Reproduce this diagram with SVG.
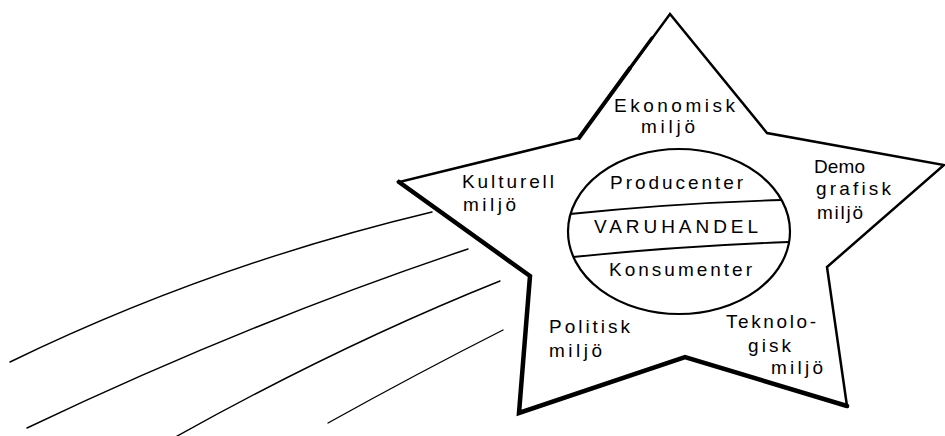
<svg xmlns="http://www.w3.org/2000/svg" width="945" height="436" viewBox="0 0 945 436">
<style>
.lbl{font-family:"Liberation Sans",Arial,sans-serif;font-size:19px;fill:#000}
.trail{fill:none;stroke:#000;stroke-width:1.4;stroke-linecap:round}
.edge{fill:none;stroke:#000;stroke-linejoin:miter;stroke-linecap:round}
</style>
<rect width="945" height="436" fill="#fff"/>
<g id="connectors" class="trail">
<path d="M10,362 Q210,265 432,212"/>
<path d="M27,428 Q250,322 468,249"/>
<path d="M163,444 Q335,347 500,281"/>
<path d="M328,423 Q418,373 503,330"/>
</g>
<g id="star">
<polygon points="670,14 767,133 944,165 827,267 847,406 685,357 519,413 530,276 399,182 579,138" fill="#fff" stroke="#000" stroke-width="2.5" stroke-linejoin="miter"/>
<path class="edge" d="M399,182 L530,276 L519,413 L685,357 L847,406" stroke-width="4.5"/>
<path class="edge" d="M579,138 L630,68" stroke-width="4"/>
<path class="edge" d="M630,68 L652,38" stroke-width="3.2"/>
</g>
<g id="varuhandel">
<ellipse cx="679" cy="231.5" rx="111" ry="82.5" fill="#fff" stroke="#000" stroke-width="2.2"/>
<path d="M570,214 Q675,203 782,200" fill="none" stroke="#000" stroke-width="1.8"/>
<path d="M573,257 Q680,246 789,242" fill="none" stroke="#000" stroke-width="1.8"/>
<text class="lbl" x="610" y="189" textLength="133" lengthAdjust="spacing">Producenter</text>
<text class="lbl" x="594" y="233" textLength="164" lengthAdjust="spacing">VARUHANDEL</text>
<text class="lbl" x="609" y="276" textLength="143" lengthAdjust="spacing">Konsumenter</text>
</g>
<g id="ekonomisk">
<text class="lbl" x="614" y="112" textLength="121" lengthAdjust="spacing">Ekonomisk</text>
<text class="lbl" x="641" y="133" textLength="54" lengthAdjust="spacing">miljö</text>
</g>
<g id="demografisk">
<text class="lbl" x="814" y="173" textLength="51" lengthAdjust="spacing">Demo</text>
<text class="lbl" x="816" y="195" textLength="75" lengthAdjust="spacing">grafisk</text>
<text class="lbl" x="817" y="219" textLength="46" lengthAdjust="spacing">miljö</text>
</g>
<g id="kulturell">
<text class="lbl" x="462" y="188" textLength="92" lengthAdjust="spacing">Kulturell</text>
<text class="lbl" x="463" y="211" textLength="53" lengthAdjust="spacing">miljö</text>
</g>
<g id="politisk">
<text class="lbl" x="549" y="333" textLength="81" lengthAdjust="spacing">Politisk</text>
<text class="lbl" x="549" y="357" textLength="53" lengthAdjust="spacing">miljö</text>
</g>
<g id="teknologisk">
<text class="lbl" x="726" y="328" textLength="90" lengthAdjust="spacing">Teknolo-</text>
<text class="lbl" x="748" y="352" textLength="43" lengthAdjust="spacing">gisk</text>
<text class="lbl" x="771" y="374" textLength="52" lengthAdjust="spacing">miljö</text>
</g>
</svg>
